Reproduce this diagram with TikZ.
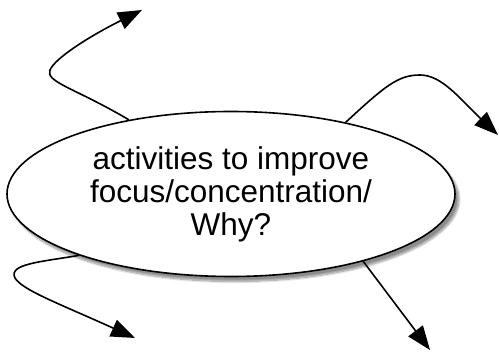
\documentclass[tikz,border=0pt]{standalone}
\usepackage{fontspec}
\setmainfont{Liberation Sans}
\usetikzlibrary{arrows.meta,shapes.geometric,shadows.blur}

\tikzset{
    idea/.style = {ellipse, draw, line width=1.6pt, fill=white,
        minimum width=448pt, minimum height=165pt, inner sep=0pt,
        align=center, font=\fontsize{31.5}{33}\selectfont,
        blur shadow={shadow xshift=4pt, shadow yshift=-5pt,
            shadow blur steps=10, shadow opacity=45}},
    branch/.style = {line width=1.6pt, -{Triangle[length=24pt,width=18pt]}}
}

\begin{document}
\begin{tikzpicture}[x=1pt,y=1pt]
    \useasboundingbox (0,0) rectangle (499,354);

    \node [idea] (focus) at (231,160) {activities to improve\\focus/concentration/\\Why?};

    \coordinate (tlbend) at (50,284);
    \coordinate (tltip) at (142,344);
    \coordinate (trpeak) at (420,279);
    \coordinate (trtip) at (498,219);
    \coordinate (blbend) at (15,76);
    \coordinate (bltip) at (135,16);
    \coordinate (brtip) at (430,4);

    \draw [branch] (focus.144) .. controls (75,266) and (45,272) .. (tlbend)
        .. controls (55,296) and (90,318) .. (tltip);
    \draw [branch] (focus.32) .. controls (385,268) and (398,279) .. (trpeak)
        .. controls (442,279) and (460,255) .. (trtip);
    \draw [branch] (focus.202) .. controls (40,92) and (8,90) .. (blbend)
        .. controls (22,64) and (60,50) .. (bltip);
    \draw [branch] (focus.333) -- (brtip);
\end{tikzpicture}
\end{document}
